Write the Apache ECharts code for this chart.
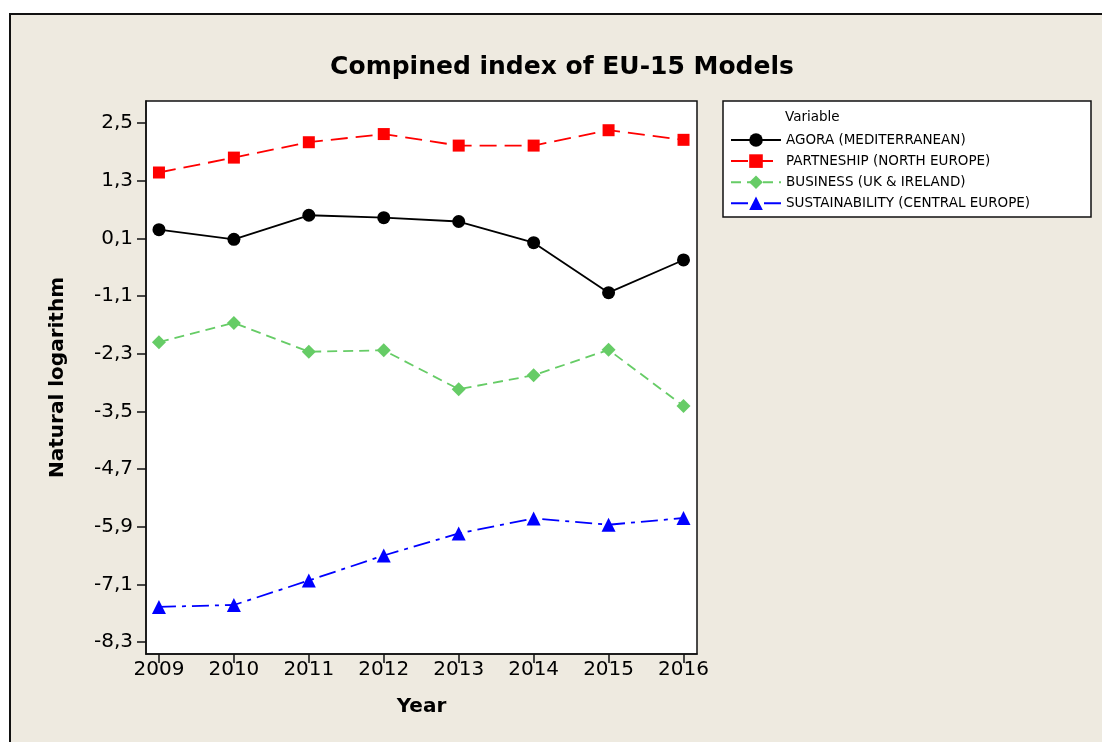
<!DOCTYPE html>
<html>
<head>
<meta charset="utf-8">
<script src="https://cdn.jsdelivr.net/npm/echarts@6/dist/echarts.min.js"></script>
<style>
  html, body { margin: 0; padding: 0; background: #fff; }
  .frame {
    position: absolute; left: 9px; top: 13px; width: 1200px; height: 800px;
    background: #eeeae0; border: 2px solid #111; box-sizing: border-box;
  }
  #chart { position: absolute; left: 0; top: 0; width: 1102px; height: 742px; }
</style>
</head>
<body>
<div class="frame"></div>
<div id="chart"></div>
<script>
// values
const years = [2009, 2010, 2011, 2012, 2013, 2014, 2015, 2016]
const agora = [0.28, 0.08, 0.58, 0.53, 0.45, 0.01, -1.03, -0.35]
const partnership = [1.47, 1.78, 2.10, 2.27, 2.03, 2.03, 2.35, 2.15]
const business = [-2.06, -1.66, -2.26, -2.23, -3.04, -2.75, -2.22, -3.39]
const sustainability = [-7.57, -7.53, -7.02, -6.50, -6.04, -5.73, -5.86, -5.72]
const yTicks = [-8.3, -7.1, -5.9, -4.7, -3.5, -2.3, -1.1, 0.1, 1.3, 2.5]
const seriesNames = [
  'AGORA (MEDITERRANEAN)',
  'PARTNESHIP (NORTH EUROPE)',
  'BUSINESS (UK & IRELAND)',
  'SUSTAINABILITY (CENTRAL EUROPE)'
]

const pairs = vals => years.map((y, i) => [y, vals[i]])
const font = 'DejaVu Sans'

const makeLine = (name, vals, color, symbol, size, dash) => ({
  name: name,
  type: 'line',
  data: pairs(vals),
  symbol: symbol,
  symbolSize: size,
  showSymbol: true,
  animation: false,
  itemStyle: { color: color },
  lineStyle: { color: color, width: 1.8, type: dash }
})

const myChart = echarts.init(document.getElementById('chart'))
const option = {
  backgroundColor: 'transparent',
  animation: false,
  grid: {
    left: 146, top: 101, width: 551, height: 553,
    show: true, backgroundColor: '#fff', borderColor: '#111', borderWidth: 1.5
  },
  graphic: [
    {
      type: 'text', x: 562, y: 67,
      style: {
        text: 'Compined index of EU-15 Models', fill: '#000',
        font: 'bold 25px "DejaVu Sans"', textAlign: 'center', textVerticalAlign: 'middle'
      }
    },
    {
      type: 'rect', shape: { x: 723, y: 101, width: 368, height: 116 },
      style: { fill: '#fff', stroke: '#111', lineWidth: 1.5 }
    },
    {
      type: 'text', x: 785, y: 117,
      style: {
        text: 'Variable', fill: '#000', font: '13.5px "DejaVu Sans"',
        textAlign: 'left', textVerticalAlign: 'middle'
      }
    }
  ],
  legend: {
    orient: 'vertical',
    left: 730,
    top: 133,
    padding: 0,
    itemWidth: 50,
    itemHeight: 17,
    itemGap: 7.1,
    data: seriesNames,
    textStyle: { fontFamily: font, fontSize: 13.5, color: '#000' }
  },
  xAxis: {
    type: 'value',
    min: 2008.827,
    max: 2016.18,
    name: 'Year',
    nameLocation: 'middle',
    nameGap: 43,
    nameTextStyle: { fontFamily: font, fontSize: 20, fontWeight: 'bold', color: '#000' },
    splitLine: { show: false },
    axisLine: { show: true, onZero: false, lineStyle: { color: '#111', width: 1.5 } },
    axisTick: { show: true, length: 9, customValues: years, lineStyle: { color: '#111', width: 1.5 } },
    axisLabel: {
      customValues: years, margin: 6,
      fontFamily: font, fontSize: 20, color: '#000',
      formatter: v => String(v)
    }
  },
  yAxis: {
    type: 'value',
    min: -8.55,
    max: 2.958,
    name: 'Natural logarithm',
    nameLocation: 'middle',
    nameRotate: 90,
    nameGap: 78,
    nameTextStyle: { fontFamily: font, fontSize: 20, fontWeight: 'bold', color: '#000' },
    splitLine: { show: false },
    axisLine: { show: true, onZero: false, lineStyle: { color: '#111', width: 1.5 } },
    axisTick: { show: true, length: 9, customValues: yTicks, lineStyle: { color: '#111', width: 1.5 } },
    axisLabel: {
      customValues: yTicks, margin: 13,
      fontFamily: font, fontSize: 20, color: '#000',
      formatter: v => v.toFixed(1).replace('.', ',')
    }
  },
  series: [
    makeLine(seriesNames[0], agora, '#000000', 'circle', 13, 'solid'),
    makeLine(seriesNames[1], partnership, '#ff0000', 'rect', 12, [17, 8]),
    makeLine(seriesNames[2], business, '#66cc66', 'diamond', 14, [10, 6]),
    makeLine(seriesNames[3], sustainability, '#0000ff', 'triangle', 14, [17, 6, 4, 6])
  ]
}
myChart.setOption(option)
</script>
</body>
</html>
